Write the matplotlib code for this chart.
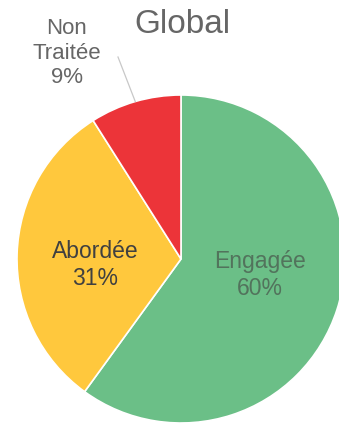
import numpy as np
import matplotlib.pyplot as plt

plt.rcParams['font.family'] = ['Liberation Sans', 'DejaVu Sans']

categories = ['Engagée', 'Abordée', 'Non\nTraitée']
values = [60, 31, 9]
colors = ['#6bbf87', '#ffc83d', '#ec3439']

fig = plt.figure(figsize=(3.39, 4.28), dpi=100)
ax = fig.add_axes([0, 0, 1, 1])

cx, cy, r = 181, 169, 164
wedges, _ = ax.pie(values, colors=colors, startangle=90, counterclock=False,
                   center=(cx, cy), radius=r, frame=True,
                   wedgeprops=dict(edgecolor='white', linewidth=1.2))
ax.set_xlim(0, 339)
ax.set_ylim(0, 428)
ax.axis('off')

labels = [f'{c}\n{v}%' for c, v in zip(categories, values)]

# inside labels
ax.text(260, 153, labels[0], ha='center', va='center', fontsize=16.5,
        color='#52735c', linespacing=1.2)
ax.text(95, 163, labels[1], ha='center', va='center', fontsize=16.5,
        color='#404040', linespacing=1.2)

# outside label with leader line
w = wedges[2]
mid = np.deg2rad((w.theta1 + w.theta2) / 2)
ex, ey = cx + r * np.cos(mid), cy + r * np.sin(mid)
ax.plot([118, ex], [371, ey], color='#c8c8c8', lw=0.9)
ax.text(67, 375, labels[2], ha='center', va='center', fontsize=16,
        color='#666666', linespacing=1.2)

ax.text(182, 404, 'Global', ha='center', va='center', fontsize=24,
        color='#666666')

fig.savefig('out.png', dpi=100)
